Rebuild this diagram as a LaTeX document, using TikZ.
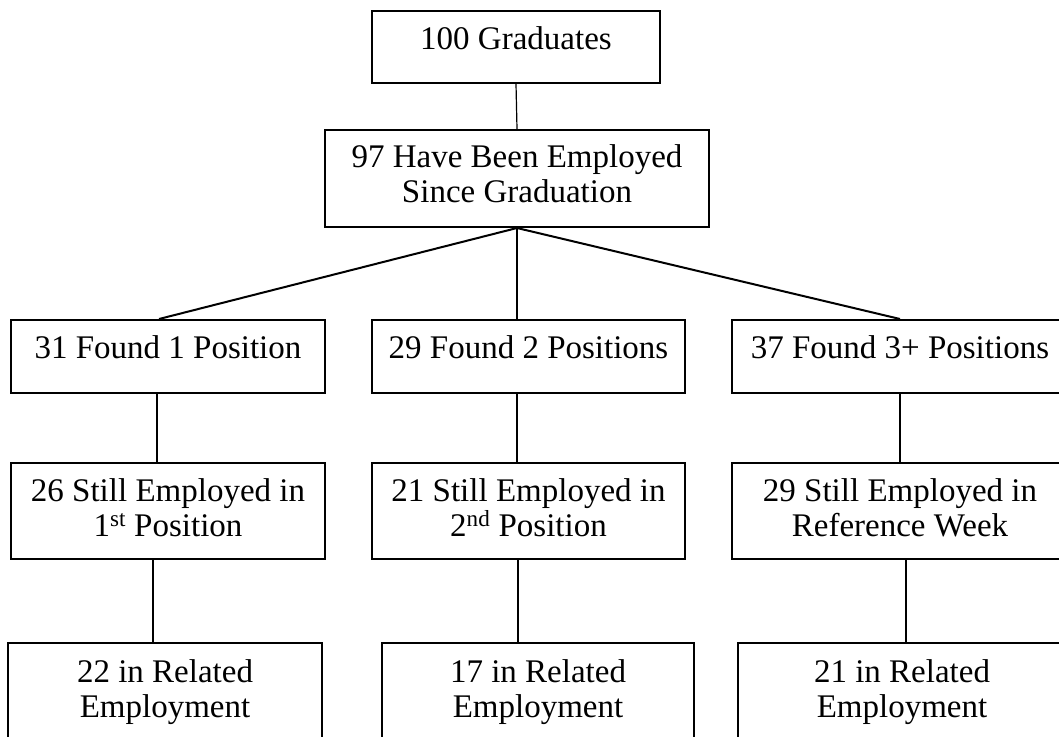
\documentclass[tikz,border=0pt]{standalone}
\usepackage{fontspec}
\setmainfont{Liberation Serif}
\begin{document}
\begin{tikzpicture}[x=1pt,y=-1pt,
  box/.style={draw, line width=2pt, inner sep=0pt, rectangle},
  lbl/.style={anchor=base, inner sep=0pt, text width=340pt, align=flush center,
              font=\fontsize{33}{35}\selectfont},
  conn/.style={line width=1.2pt},
  diag/.style={line width=2pt}]
\useasboundingbox (0,0) rectangle (1059,736);
\clip (0,0) rectangle (1059,736);
% boxes
\node[box, minimum width=288pt, minimum height=72pt] (g) at (516,47) {};
\node[box, minimum width=384pt, minimum height=97pt] (e) at (517,178.5) {};
\node[box, minimum width=314pt, minimum height=73pt] (f1) at (168,356.5) {};
\node[box, minimum width=313pt, minimum height=73pt] (f2) at (528.5,356.5) {};
\node[box, minimum width=336pt, minimum height=73pt] (f3) at (900,356.5) {};
\node[box, minimum width=314pt, minimum height=96pt] (s1) at (168,511) {};
\node[box, minimum width=313pt, minimum height=96pt] (s2) at (528.5,511) {};
\node[box, minimum width=336pt, minimum height=96pt] (s3) at (900,511) {};
\node[box, minimum width=314pt, minimum height=130pt] (r1) at (165,708) {};
\node[box, minimum width=312pt, minimum height=130pt] (r2) at (538,708) {};
\node[box, minimum width=328pt, minimum height=130pt] (r3) at (902,708) {};
% labels
\node[lbl] (tg) at ([yshift=-39pt]g.north) {100 Graduates};
\node[lbl] (te) at ([yshift=-38pt]e.north) {97 Have Been Employed\\Since Graduation};
\node[lbl] (tf1) at ([yshift=-39pt]f1.north) {31 Found 1 Position};
\node[lbl] (tf2) at ([yshift=-39pt]f2.north) {29 Found 2 Positions};
\node[lbl] (tf3) at ([yshift=-39pt]f3.north) {37 Found 3+ Positions};
\node[lbl] (ts1) at ([yshift=-39pt]s1.north) {26 Still Employed in\\1\textsuperscript{st} Position};
\node[lbl] (ts2) at ([yshift=-39pt]s2.north) {21 Still Employed in\\2\textsuperscript{nd} Position};
\node[lbl] (ts3) at ([yshift=-39pt]s3.north) {29 Still Employed in\\Reference Week};
\node[lbl] (tr1) at ([yshift=-40pt]r1.north) {22 in Related\\Employment};
\node[lbl] (tr2) at ([yshift=-40pt]r2.north) {17 in Related\\Employment};
\node[lbl] (tr3) at ([yshift=-40pt]r3.north) {21 in Related\\Employment};
% connectors
\draw[conn] (g.south) -- (e.north);
\draw[diag] (e.south) -- ([xshift=-9pt]f1.north);
\draw[conn] (e.south) -- ([xshift=-11.5pt]f2.north);
\draw[diag] (e.south) -- (f3.north);
\draw[conn] ([xshift=-11pt]f1.south) -- ([xshift=-11pt]s1.north);
\draw[conn] ([xshift=-11.5pt]f2.south) -- ([xshift=-11.5pt]s2.north);
\draw[conn] (f3.south) -- (s3.north);
\draw[conn] ([xshift=-15pt]s1.south) -- ([xshift=-12pt]r1.north);
\draw[conn] ([xshift=-10.5pt]s2.south) -- ([xshift=-20pt]r2.north);
\draw[conn] ([xshift=6pt]s3.south) -- ([xshift=4pt]r3.north);
\end{tikzpicture}
\end{document}
